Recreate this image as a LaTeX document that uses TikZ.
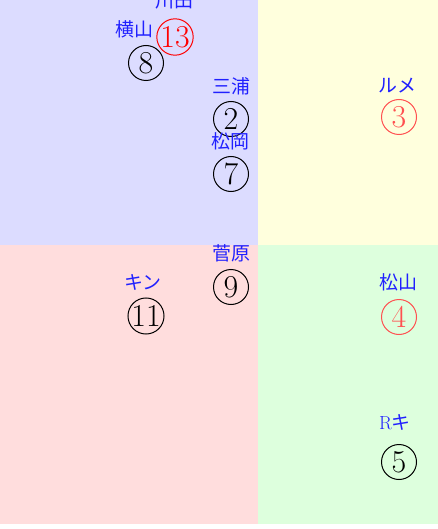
\documentclass[tikz,border=0pt]{standalone}
\usepackage{fontspec}
\newfontfamily\jpfont{Noto Sans CJK JP}
\usepackage{xcolor}
\usepackage{tikz}
\definecolor{qBlue}{HTML}{DCDCFF}
\definecolor{qYellow}{HTML}{FFFFDD}
\definecolor{qRed}{HTML}{FFDDDD}
\definecolor{qGreen}{HTML}{DDFFDD}
\definecolor{nameInk}{HTML}{2020FF}
\definecolor{hotInk}{HTML}{FF5050}

\begin{document}
\begin{tikzpicture}[x=1bp, y=-1bp,
  seat/.style={draw, circle, line width=1bp, inner sep=0pt, minimum size=35bp,
    font=\fontsize{32}{32}\selectfont},
  jockey/.style={text=nameInk, inner sep=0pt, font=\jpfont\fontsize{19}{19}\selectfont}]
  \useasboundingbox (0,0) rectangle (438,529);
  % quadrants
  \fill[qBlue] (0,0) rectangle (258,245);
  \fill[qYellow] (258,0) rectangle (438,245);
  \fill[qRed] (0,245) rectangle (258,524);
  \fill[qGreen] (258,245) rectangle (438,524);
  % top left
  \node[jockey] (kawada) at (174,1) {川田};
  \node[seat, red] (s13) at (175,37) {13};
  \node[jockey] (yokoyama) at (134,29) {横山};
  \node[seat] (s8) at (146,63) {8};
  \node[jockey] (miura) at (231,86) {三浦};
  \node[seat] (s2) at (231,119) {2};
  \node[jockey] (matsuoka) at (230,141) {松岡};
  \node[seat] (s7) at (231,174) {7};
  % top right
  \node[jockey] (lemaire) at (397,86) {ルメ};
  \node[seat, hotInk] (s3) at (399,117) {3};
  % bottom left
  \node[jockey] (sugawara) at (231,253) {菅原};
  \node[seat] (s9) at (231,287) {9};
  \node[jockey] (kin) at (143,282) {キン};
  \node[seat] (s11) at (146,316) {11};
  % bottom right
  \node[jockey] (matsuyama) at (398,282) {松山};
  \node[seat, hotInk] (s4) at (399,317) {4};
  \node[jockey, font=\fontsize{19}{19}\selectfont] (rki) at (395,422) {R\jpfont キ};
  \node[seat] (s5) at (399,462) {5};
\end{tikzpicture}
\end{document}
